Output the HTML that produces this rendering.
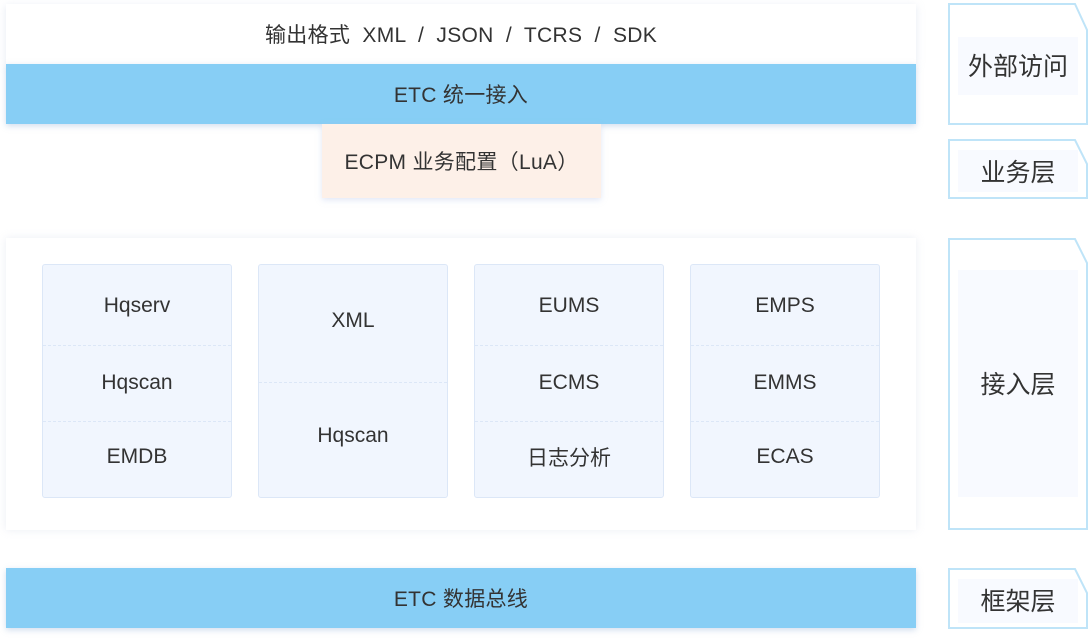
<!DOCTYPE html>
<html><head><meta charset="utf-8"><style>
*{margin:0;padding:0;box-sizing:border-box}
body{width:1088px;height:638px;background:#fff;position:relative;overflow:hidden;font-family:"Liberation Sans","Noto Sans CJK SC",sans-serif;color:#333}
.a{position:absolute;display:flex;align-items:center;justify-content:center;font-size:21px;letter-spacing:0.3px}
.col{position:absolute;top:264px;width:190px;height:234px;background:#f1f6fe;border:1px solid #dce7f7;border-radius:3px}
.cell{position:absolute;left:0;right:0;display:flex;align-items:center;justify-content:center;font-size:21px;color:#333}
.dl{position:absolute;left:0;right:0;border-top:1px dashed #dce7f7}
</style></head><body>
<div class="a" style="left:6px;top:4px;width:910px;height:60px;box-shadow:0 2px 8px rgba(180,195,220,.35);white-space:pre">输出格式  XML  /  JSON  /  TCRS  /  SDK</div>
<div class="a" style="left:6px;top:64px;width:910px;height:60px;background:#87cef5;box-shadow:0 2px 6px rgba(140,170,210,.4)">ETC 统一接入</div>
<div class="a" style="left:322px;top:124px;width:279px;height:74px;background:#fdf0e8;box-shadow:0 2px 6px rgba(170,185,230,.35)">ECPM 业务配置（LuA）</div>
<div style="position:absolute;left:6px;top:238px;width:910px;height:292px;background:#fff;box-shadow:0 0 8px rgba(190,200,220,.3)"></div>

<div class="col" style="left:42px"><div class="cell" style="top:0;height:82px">Hqserv</div><div class="dl" style="top:80px"></div><div class="cell" style="top:80px;height:76px">Hqscan</div><div class="dl" style="top:156px"></div><div class="cell" style="top:154px;height:76px">EMDB</div></div>
<div class="col" style="left:258px"><div class="cell" style="top:0;height:112px">XML</div><div class="dl" style="top:117px"></div><div class="cell" style="top:117px;height:108px">Hqscan</div></div>
<div class="col" style="left:474px"><div class="cell" style="top:0;height:82px">EUMS</div><div class="dl" style="top:80px"></div><div class="cell" style="top:80px;height:76px">ECMS</div><div class="dl" style="top:156px"></div><div class="cell" style="top:154px;height:76px">日志分析</div></div>
<div class="col" style="left:690px"><div class="cell" style="top:0;height:82px">EMPS</div><div class="dl" style="top:80px"></div><div class="cell" style="top:80px;height:76px">EMMS</div><div class="dl" style="top:156px"></div><div class="cell" style="top:154px;height:76px">ECAS</div></div>

<div class="a" style="left:6px;top:568px;width:910px;height:60px;background:#87cef5;box-shadow:0 2px 6px rgba(140,170,210,.4)">ETC 数据总线</div>

<svg style="position:absolute;left:0;top:0" width="1088" height="638">
<g fill="#fff" stroke="#bfe4f8" stroke-width="2">
<path d="M949 4H1075L1087 30V124H949Z"/>
<path d="M949 140H1075L1087 164V198H949Z"/>
<path d="M949 239H1075L1087 263V529H949Z"/>
<path d="M949 569H1075L1087 593V628H949Z"/>
</g>
<g fill="#f8faff">
<rect x="958" y="37" width="120" height="58"/>
<rect x="958" y="150" width="120" height="42"/>
<rect x="958" y="270" width="120" height="227"/>
<rect x="958" y="579" width="120" height="44"/>
</g>
<g font-family="Liberation Sans,Noto Sans CJK SC,sans-serif" font-size="25" fill="#333" text-anchor="middle">
<text x="1018" y="75">外部访问</text>
<text x="1018" y="181">业务层</text>
<text x="1018" y="393">接入层</text>
<text x="1018" y="610">框架层</text>
</g>
</svg>
</body></html>
